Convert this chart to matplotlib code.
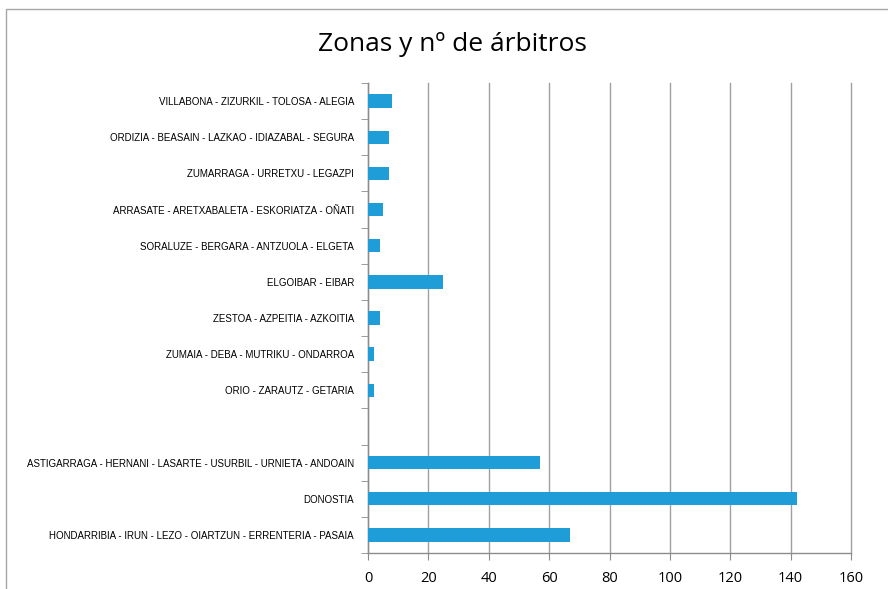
import numpy as np
import matplotlib.pyplot as plt
from matplotlib.patches import Rectangle

# datos (de abajo a arriba, como en el grafico de Excel)
zonas = [
    "HONDARRIBIA - IRUN - LEZO - OIARTZUN - ERRENTERIA - PASAIA",
    "DONOSTIA",
    "ASTIGARRAGA - HERNANI - LASARTE - USURBIL - URNIETA - ANDOAIN",
    "",
    "ORIO - ZARAUTZ - GETARIA",
    "ZUMAIA - DEBA - MUTRIKU - ONDARROA",
    "ZESTOA - AZPEITIA - AZKOITIA",
    "ELGOIBAR - EIBAR",
    "SORALUZE - BERGARA - ANTZUOLA - ELGETA",
    "ARRASATE - ARETXABALETA - ESKORIATZA - OÑATI",
    "ZUMARRAGA - URRETXU - LEGAZPI",
    "ORDIZIA - BEASAIN - LAZKAO - IDIAZABAL - SEGURA",
    "VILLABONA - ZIZURKIL - TOLOSA - ALEGIA",
]
arbitros = [67, 142, 57, 0, 2, 2, 4, 25, 4, 5, 7, 7, 8]
x_ticks = [0, 20, 40, 60, 80, 100, 120, 140, 160]

azul = '#1f9dd9'
gris = '#8c8c8c'

fig = plt.figure(figsize=(8.88, 5.89), dpi=100)

# marco del area del grafico
fig.patches.append(Rectangle((6 / 888, -0.1), 1.1, 1.1 - 9 / 589,
                             transform=fig.transFigure, fill=False,
                             edgecolor='#a6a6a6', linewidth=1.0))

ax = fig.add_axes([368 / 888, 1 - 553 / 589, 483 / 888, 470 / 589])

y = np.arange(len(zonas))
ax.barh(y, arbitros, height=0.37, color=azul, zorder=3)

ax.set_xlim(0, 160)
ax.set_ylim(-0.5, len(zonas) - 0.5)
ax.set_xticks(x_ticks)
ax.set_xticklabels([str(v) for v in x_ticks], family=['Open Sans', 'DejaVu Sans'], fontsize=10.5)
ax.tick_params(axis='x', direction='out', length=5, color=gris, pad=8)

ax.set_yticks(y)
ax.set_yticklabels(zonas, family=['Liberation Sans Narrow', 'Liberation Sans', 'DejaVu Sans'],
                   fontsize=7)
ax.tick_params(axis='y', which='major', length=0, pad=10)
ax.set_yticks(np.arange(-0.5, len(zonas)), minor=True)
ax.tick_params(axis='y', which='minor', direction='out', length=5, color=gris)

ax.grid(axis='x', color='#a0a0a0', linewidth=1.0, zorder=0)
for gl in ax.get_xgridlines():
    gl.set_clip_on(False)
for s in ['top', 'right']:
    ax.spines[s].set_visible(False)
for s in ['left', 'bottom']:
    ax.spines[s].set_color(gris)
    ax.spines[s].set_linewidth(1.0)

fig.text(0.509, 0.924, "Zonas y nº de árbitros", ha='center', va='center',
         family=['Open Sans', 'DejaVu Sans'], fontsize=19)

fig.savefig('out.png', dpi=100)
